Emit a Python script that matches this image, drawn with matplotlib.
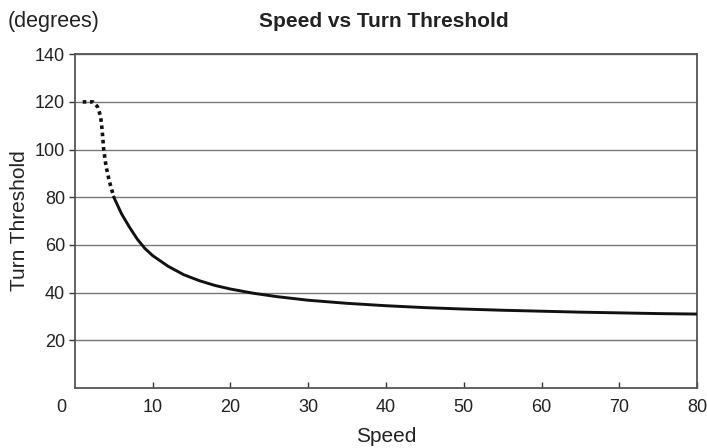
import matplotlib.pyplot as plt

plt.rcParams['font.family'] = ['Liberation Sans', 'DejaVu Sans']

# dotted (low speed) part of the curve
dot_speed = [1.0, 2.3, 2.9, 3.3, 3.5, 3.7, 4.0, 4.4, 5.0]
dot_turn = [120, 120, 118, 114, 108, 100, 93, 87, 80]

# solid part
speed = [5.0, 5.5, 6, 7, 8, 9, 10, 12, 14, 16, 18, 20, 23, 26, 30, 35, 40,
         45, 50, 55, 60, 65, 70, 75, 80]
turn = [80, 76.5, 73, 67.5, 62.5, 58.5, 55.5, 51, 47.5, 45, 43, 41.5, 39.7,
        38.3, 36.8, 35.5, 34.5, 33.7, 33.1, 32.6, 32.2, 31.8, 31.5, 31.2, 31.0]

xticks = [10, 20, 30, 40, 50, 60, 70, 80]
yticks = [20, 40, 60, 80, 100, 120, 140]

fig = plt.figure(figsize=(7.07, 4.48), dpi=100)
ax = fig.add_axes([0.106, 0.134, 0.88, 0.745])

for y in yticks:
    ax.axhline(y, color='#777777', lw=1.0, zorder=1)

ax.plot(dot_speed, dot_turn, color='#111111', lw=2.6, linestyle=(0, (1, 1)),
        dash_capstyle='butt', zorder=3)
ax.plot(speed, turn, color='#111111', lw=2.1, zorder=3)

ax.set_xlim(0, 80)
ax.set_ylim(0, 140)
ax.set_xticks(xticks)
ax.set_yticks(yticks)
ax.tick_params(axis='x', direction='in', length=4, width=1, color='#333333',
               labelsize=13, labelcolor='#222222', pad=8)
ax.tick_params(axis='y', direction='out', length=4, width=1, color='#333333',
               labelsize=13, labelcolor='#222222', pad=3)
for s in ax.spines.values():
    s.set_color('#555555')
    s.set_linewidth(1.3)

# corner zero label
ax.text(-0.022, -0.058, '0', transform=ax.transAxes, fontsize=13,
        ha='center', va='center', color='#222222')

ax.set_xlabel('Speed', fontsize=15, labelpad=8, color='#222222')
ax.set_ylabel('Turn Threshold', fontsize=15, labelpad=4, color='#222222')
fig.text(0.543, 0.953, 'Speed vs Turn Threshold', fontsize=15,
         fontweight='bold', ha='center', va='center', color='#222222')
fig.text(0.011, 0.953, '(degrees)', fontsize=15.5, ha='left', va='center',
         color='#222222')

fig.savefig('out.png', dpi=100)
